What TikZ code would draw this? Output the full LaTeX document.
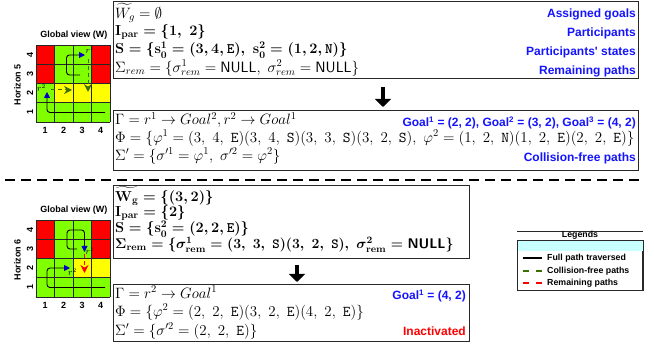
\RequirePackage{fix-cm}
\documentclass[tikz,border=0pt]{standalone}
\usepackage{amssymb}
\usepackage{fontspec}
\newfontfamily\lab{Liberation Sans}
\usetikzlibrary{arrows.meta}
\definecolor{cred}{RGB}{255,0,0}
\definecolor{cgreen}{RGB}{128,255,0}
\definecolor{cyel}{RGB}{255,255,0}
\definecolor{cblue}{RGB}{20,20,255}
\definecolor{rblue}{RGB}{0,0,200}
\definecolor{dgreen}{RGB}{60,110,0}
\definecolor{legbg}{RGB}{200,255,255}
\definecolor{bord}{RGB}{40,40,40}
\tikzset{
  box/.style={draw=bord, line width=1pt, anchor=north west, inner sep=0pt, fill=white},
  mline/.style={anchor=west, inner sep=0pt, font=\fontsize{15}{17}\selectfont},
  mbold/.style={anchor=west, inner sep=0pt, font=\fontsize{14.5}{17}\selectfont\boldmath},
  blab/.style={anchor=east, inner sep=0pt, text=cblue, font=\lab\bfseries\fontsize{12}{14}\selectfont},
  glab/.style={inner sep=0pt, font=\lab\bfseries\fontsize{9}{11}\selectfont},
  legt/.style={anchor=west, inner sep=0pt, font=\lab\bfseries\fontsize{8.8}{10}\selectfont},
  gridln/.style={draw=black!85, line width=0.9pt},
  fullpath/.style={draw=black, line width=0.9pt, rounded corners=3pt, -{Triangle[length=6pt,width=6pt,color=rblue]}},
  cfpath/.style={draw=dgreen, line width=1pt, dash pattern=on 4pt off 3pt, -{Stealth[length=8pt,width=8pt]}},
  rmpath/.style={draw=red, line width=1pt, dash pattern=on 4pt off 3pt, -{Stealth[length=8pt,width=8pt]}},
  bigarrow/.style={line width=4pt, -{Triangle[length=8pt,width=16pt]}},
  rlab/.style={inner sep=0pt, font=\fontsize{9}{10}\selectfont},
}
\begin{document}
\begin{tikzpicture}[x=1pt,y=-1pt]
\useasboundingbox[fill=white] (0,0) rectangle (654,347);

% ---------- top grid (horizon 5)
\begin{scope}[shift={(36,122)}, x=18.5pt, y=19.25pt]
  \foreach \r/\cols in {4/{cred,cgreen,cgreen,cred},3/{cred,cgreen,cgreen,cred},2/{cgreen,cyel,cyel,cyel},1/{cgreen,cgreen,cgreen,cgreen}}{
    \foreach \col [count=\c] in \cols { \fill[\col] (\c-1,\r-1) rectangle (\c,\r); }
  }
  \foreach \i in {0,...,4}{ \draw[gridln] (\i,0) -- (\i,4); \draw[gridln] (0,\i) -- (4,\i); }
  \foreach \i in {1,...,4}{
    \node[glab] (tc\i) at (\i-0.5,-0.45) {\i};
    \node[glab, rotate=90] (tr\i) at (-0.32,\i-0.5) {\i};
  }
  \node[glab] (ttitle) at (2.05,4.5) {Global view (W)};
  \node[glab, rotate=90] (thor) at (-1.0,1.93) {Horizon 5};
\end{scope}
\draw[fullpath] (80,75) -- (66.5,75) -- (66.5,55) -- (85,55);
\node[rlab] (tr1lab) at (90,50) {$r^1$};
\draw[cfpath] (88,59) -- (88,92);
\draw[fullpath] (105,112.5) -- (47,112.5) -- (47,92);
\node[rlab] (tr2lab) at (41.5,88) {$r^2$};
\draw[cfpath] (51,90) -- (72,90);

% ---------- bottom grid (horizon 6)
\begin{scope}[shift={(36,297)}, x=18.5pt, y=19.25pt]
  \foreach \r/\cols in {4/{cred,cgreen,cgreen,cred},3/{cred,cgreen,cgreen,cred},2/{cgreen,cgreen,cyel,cyel},1/{cgreen,cgreen,cgreen,cgreen}}{
    \foreach \col [count=\c] in \cols { \fill[\col] (\c-1,\r-1) rectangle (\c,\r); }
  }
  \foreach \i in {0,...,4}{ \draw[gridln] (\i,0) -- (\i,4); \draw[gridln] (0,\i) -- (4,\i); }
  \foreach \i in {1,...,4}{
    \node[glab] (bc\i) at (\i-0.5,-0.45) {\i};
    \node[glab, rotate=90] (br\i) at (-0.32,\i-0.5) {\i};
  }
  \node[glab] (btitle) at (2.05,4.5) {Global view (W)};
  \node[glab, rotate=90] (bhor) at (-1.0,1.93) {Horizon 6};
\end{scope}
\draw[fullpath] (77,249) -- (67,249) -- (67,230) -- (84.5,230) -- (84.5,252);
\node[rlab] (br1lab) at (90,251) {$r^1$};
\draw[rmpath] (84.5,254) -- (84.5,273);
\draw[fullpath] (105,287.5) -- (47,287.5) -- (47,268) -- (70,268);
\node[rlab] (br2lab) at (72.5,272) {$r^2$};

% ---------- box 1
\node[box, minimum width=525pt, minimum height=77pt] (box1) at (113,1) {};
\node[mline] (b1l1) at (115,13) {$\widetilde{W_g} = \emptyset$};
\node[mbold] (b1l2) at (115,32) {$\mathbf{I}_{\mathbf{par}} = \{1,\ 2\}$};
\node[mbold] (b1l3) at (115,50) {$\mathbf{S} = \{\mathbf{s}^1_0 = (3,4,\mathtt{E}),\ \mathbf{s}^2_0 = (1,2,\mathtt{N})\}$};
\node[mline] (b1l4) at (115,68) {$\Sigma_{rem} = \{\sigma^1_{rem} = \mathsf{NULL},\ \sigma^2_{rem} = \mathsf{NULL}\}$};
\node[blab] (b1r1) at (636,14) {Assigned goals};
\node[blab] (b1r2) at (636,33) {Participants};
\node[blab] (b1r3) at (636,52) {Participants' states};
\node[blab] (b1r4) at (636,71) {Remaining paths};

% ---------- box 2
\node[box, minimum width=525pt, minimum height=60pt] (box2) at (113,110) {};
\node[mline] (b2l1) at (115,120) {$\Gamma = r^1 \rightarrow Goal^2, r^2 \rightarrow Goal^1$};
\node[mline] (b2l2) at (115,138) {$\Phi = \{\varphi^1 = (3,\ 4,\ \mathtt{E})(3,\ 4,\ \mathtt{S})(3,\ 3,\ \mathtt{S})(3,\ 2,\ \mathtt{S}),\ \varphi^2 = (1,\ 2,\ \mathtt{N})(1,\ 2,\ \mathtt{E})(2,\ 2,\ \mathtt{E})\}$};
\node[mline] (b2l3) at (115,156) {$\Sigma' = \{\sigma'^1 = \varphi^1,\ \sigma'^2 = \varphi^2\}$};
\node[blab] (b2r1) at (636,123) {Goal\textsuperscript{1} = (2, 2), Goal\textsuperscript{2} = (3, 2), Goal\textsuperscript{3} = (4, 2)};
\node[blab] (b2r2) at (636,158) {Collision-free paths};

\coordinate (a1) at (383,0);
\draw[bigarrow, shorten <=8pt, shorten >=3pt] (box1.south -| a1) -- (box2.north -| a1);

% ---------- separator
\coordinate (sepL) at (5,180);
\coordinate (sepR) at (640,180);
\draw[line width=2.5pt, dash pattern=on 10pt off 6pt] (sepL) -- (sepR);

% ---------- box 3
\node[box, minimum width=356pt, minimum height=73pt] (box3) at (113,185) {};
\node[mbold] (b3l1) at (115,196) {$\widetilde{\mathbf{W}_{\mathbf{g}}} = \{(3,2)\}$};
\node[mbold] (b3l2) at (115,213) {$\mathbf{I}_{\mathbf{par}} = \{2\}$};
\node[mbold] (b3l3) at (115,229) {$\mathbf{S} = \{\mathbf{s}^2_0 = (2,2,\mathtt{E})\}$};
\node[mbold, font=\fontsize{14}{16}\selectfont\boldmath] (b3l4) at (115,245) {$\Sigma_{\mathbf{rem}} = \{\sigma^1_{\mathbf{rem}} = (3,\ 3,\ \mathtt{S})(3,\ 2,\ \mathtt{S}),\ \sigma^2_{\mathbf{rem}} = \mathsf{NULL}\}$};

% ---------- box 4
\node[box, minimum width=356pt, minimum height=57pt] (box4) at (113,284) {};
\node[mline] (b4l1) at (115,292) {$\Gamma = r^2 \rightarrow Goal^1$};
\node[mline] (b4l2) at (115,312) {$\Phi = \{\varphi^2 = (2,\ 2,\ \mathtt{E})(3,\ 2,\ \mathtt{E})(4,\ 2,\ \mathtt{E})\}$};
\node[mline] (b4l3) at (115,331) {$\Sigma' = \{\sigma'^2 = (2,\ 2,\ \mathtt{E})\}$};
\node[blab] (b4r1) at (466,296) {Goal\textsuperscript{1} = (4, 2)};
\node[blab, text=red] (b4r2) at (466,331) {Inactivated};

\coordinate (a2) at (297,0);
\draw[bigarrow, shorten <=6pt, shorten >=2pt] (box3.south -| a2) -- (box4.north -| a2);

% ---------- legend
\node[box, minimum width=125pt, minimum height=49pt] (leg) at (517,241) {};
\fill[legbg] ([shift={(0.5,0.5)}]leg.north west) rectangle ([shift={(-0.5,10)}]leg.north east);
\draw[bord, line width=0.8pt] ([yshift=10]leg.north west) -- ([yshift=10]leg.north east);
\draw[bord, line width=1pt] (leg.north west) rectangle (leg.south east);
\node[inner sep=0pt, font=\lab\bfseries\fontsize{8.8}{10}\selectfont] (legh) at ([yshift=5.5]leg.north) {Legends};
\coordinate (lg1a) at (523,258); \coordinate (lg1b) at (542,258);
\coordinate (lg2a) at (523,271); \coordinate (lg2b) at (542,271);
\coordinate (lg3a) at (523,283); \coordinate (lg3b) at (542,283);
\draw[black, line width=2pt] (lg1a) -- (lg1b);
\draw[dgreen, line width=2pt, dash pattern=on 6pt off 7pt] (lg2a) -- (lg2b);
\draw[red, line width=2pt, dash pattern=on 6pt off 7pt] (lg3a) -- (lg3b);
\node[legt] (lt1) at (547,258) {Full path traversed};
\node[legt] (lt2) at (547,271) {Collision-free paths};
\node[legt] (lt3) at (547,283) {Remaining paths};
\end{tikzpicture}
\end{document}
